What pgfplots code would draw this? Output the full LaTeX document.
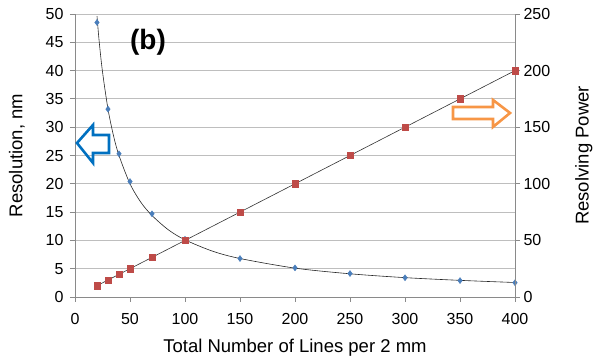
\documentclass[border=0pt]{standalone}
\usepackage{pgfplots}
\pgfplotsset{compat=1.18}
\usepackage{fontspec}
\setmainfont{Liberation Sans}
\definecolor{gridc}{HTML}{BEBEBE}
\definecolor{axc}{HTML}{8A8A8A}
\definecolor{ptblue}{HTML}{4A7EBB}
\definecolor{ptred}{HTML}{BE4B48}
\definecolor{arblue}{HTML}{0070C0}
\definecolor{arorange}{HTML}{F79646}
\begin{document}
\begin{tikzpicture}
\pgfplotsset{
  common/.style={
    scale only axis, width=440pt, height=283pt,
    xmin=0, xmax=400,
    axis line style={axc, line width=0.8pt},
    tick style={axc, line width=0.8pt},
    tick align=outside, major tick length=5pt,
    tick label style={font=\fontsize{16}{19}\selectfont, black},
    label style={font=\fontsize{18.5}{22}\selectfont},
    /pgf/number format/assume math mode=true,
    clip=false,
  }
}
\begin{axis}[common,
  ymin=0, ymax=50,
  xtick={0,50,...,400}, ytick={0,5,...,50},
  axis x line*=bottom, axis y line*=left,
  ymajorgrids, grid style={gridc, line width=0.8pt},
  x tick label style={yshift=-8pt},
  y tick label style={xshift=-3pt},
  xlabel={Total Number of Lines per 2 mm},
  ylabel={Resolution, nm},
  xlabel style={yshift=-7pt},
  ylabel style={yshift=14pt},
]
\addplot[black!85, line width=0.6pt, smooth] coordinates {
 (20,49.6)(22,45.1)(25,39.8)(30,33.2)(35,28.5)(40,25.0)(50,20.0)(60,16.7)(70,14.4)(85,11.85)(100,10.1)(125,8.1)(150,6.8)(200,5.1)(250,4.1)(300,3.42)(350,2.94)(400,2.56)};
\addplot[only marks, mark=diamond*, mark size=3pt, ptblue] coordinates {
 (20,48.5)(30,33.2)(40,25.3)(50,20.4)(70,14.7)(100,10.2)(150,6.8)(200,5.15)(250,4.15)(300,3.4)(350,2.9)(400,2.53)};
\draw[arblue, line width=2.6pt, line join=miter]
 (axis cs:1.82,27.21) -- (axis cs:16.36,30.39) -- (axis cs:16.36,28.62) -- (axis cs:30.9,28.62)
 -- (axis cs:30.9,25.44) -- (axis cs:16.36,25.44) -- (axis cs:16.36,23.68) -- cycle;
\draw[arorange, line width=2.6pt, line join=miter]
 (axis cs:343.6,33.57) -- (axis cs:380,33.57) -- (axis cs:380,34.81) -- (axis cs:395.5,32.51)
 -- (axis cs:380,30.04) -- (axis cs:380,31.45) -- (axis cs:343.6,31.45) -- cycle;
\node[font=\fontsize{28}{32}\selectfont\bfseries] at (axis cs:66.4,45.0) {(b)};
\end{axis}
\begin{axis}[common,
  ymin=0, ymax=250,
  ytick={0,50,...,250},
  axis y line*=right, axis x line=none,
  ylabel={Resolving Power},
  ylabel style={yshift=-18pt},
]
\addplot[black!80, line width=0.6pt] coordinates {(20,10)(400,200)};
\addplot[only marks, mark=square*, mark size=3.2pt, ptred] coordinates {
 (20,10)(30,15)(40,20)(50,25)(70,35)(100,50)(150,75)(200,100)(250,125)(300,150)(350,175)(400,200)};
\end{axis}
\pgfresetboundingbox
\path ([xshift=-75pt,yshift=-63pt]current axis.south west) rectangle ([xshift=81pt,yshift=14pt]current axis.north east);
\end{tikzpicture}
\end{document}
